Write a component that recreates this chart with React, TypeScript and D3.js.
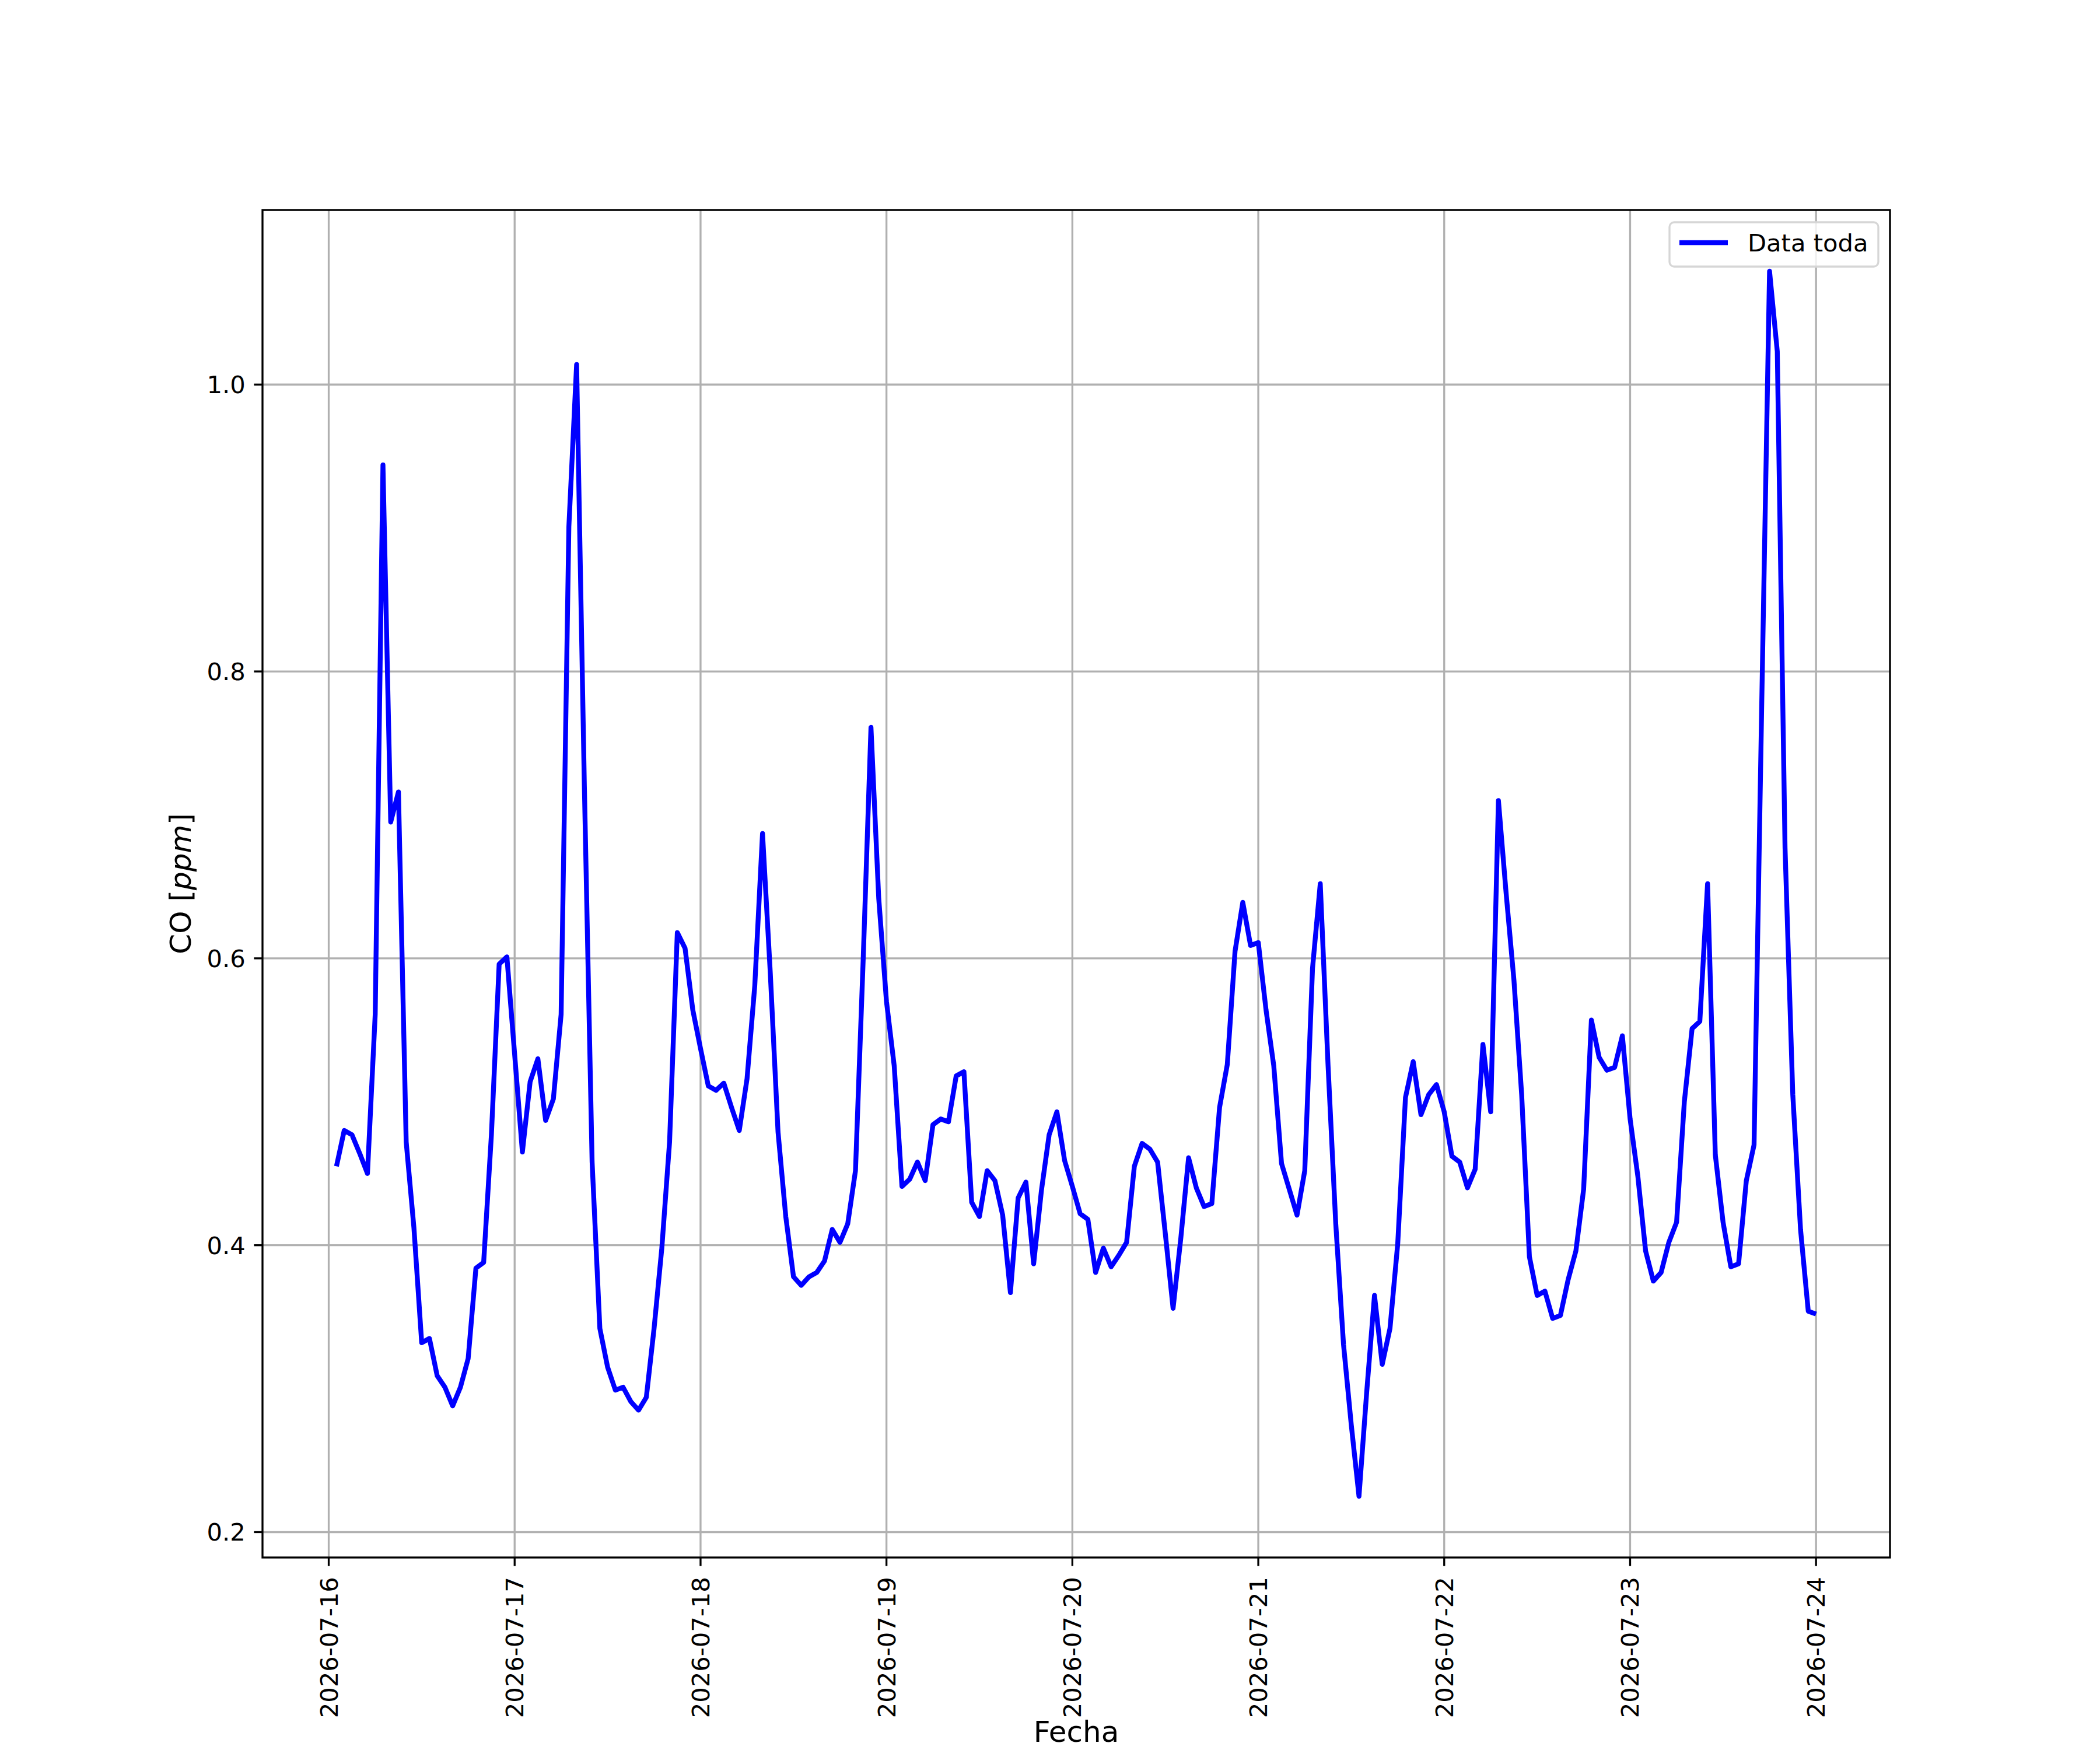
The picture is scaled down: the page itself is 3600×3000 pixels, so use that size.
import { useRef, useEffect } from 'react'
import * as d3 from 'd3'

// hourly CO readings (ppm), one array per day
const day16 = [ // 01:00 .. 23:00
  0.455, 0.480, 0.477, 0.464, 0.450, 0.561, 0.944, 0.695, 0.716, 0.472, 0.412, 0.332,
  0.335, 0.309, 0.301, 0.288, 0.301, 0.321, 0.384, 0.388, 0.477, 0.596, 0.601,
]
const day17 = [
  0.533, 0.465, 0.514, 0.530, 0.487, 0.502, 0.561, 0.901, 1.014, 0.720, 0.458, 0.342,
  0.315, 0.299, 0.301, 0.291, 0.285, 0.294, 0.342, 0.398, 0.472, 0.618, 0.607, 0.564,
]
const day18 = [
  0.537, 0.511, 0.508, 0.513, 0.496, 0.480, 0.516, 0.581, 0.687, 0.590, 0.479, 0.420,
  0.378, 0.372, 0.378, 0.381, 0.389, 0.411, 0.402, 0.415, 0.452, 0.600, 0.761, 0.642,
]
const day19 = [
  0.570, 0.525, 0.441, 0.446, 0.458, 0.445, 0.484, 0.488, 0.486, 0.518, 0.521, 0.430,
  0.420, 0.452, 0.445, 0.421, 0.367, 0.433, 0.444, 0.387, 0.438, 0.477, 0.493, 0.459,
]
const day20 = [
  0.441, 0.422, 0.418, 0.381, 0.398, 0.385, 0.393, 0.402, 0.455, 0.471, 0.467, 0.458,
  0.408, 0.356, 0.405, 0.461, 0.440, 0.427, 0.429, 0.496, 0.526, 0.605, 0.639, 0.609,
]
const day21 = [
  0.611, 0.564, 0.525, 0.457, 0.439, 0.421, 0.452, 0.593, 0.652, 0.526, 0.415, 0.331,
  0.275, 0.225, 0.298, 0.365, 0.317, 0.342, 0.401, 0.503, 0.528, 0.491, 0.505, 0.512,
]
const day22 = [
  0.493, 0.462, 0.458, 0.440, 0.453, 0.540, 0.493, 0.710, 0.645, 0.585, 0.505, 0.392,
  0.365, 0.368, 0.349, 0.351, 0.376, 0.396, 0.439, 0.557, 0.531, 0.522, 0.524, 0.546,
]
const day23 = [
  0.488, 0.448, 0.396, 0.375, 0.381, 0.402, 0.416, 0.500, 0.551, 0.556, 0.652, 0.463,
  0.416, 0.385, 0.387, 0.445, 0.470, 0.780, 1.079, 1.023, 0.677, 0.505, 0.411, 0.354,
]
const day24 = [0.352] // 00:00

const xTickLabels = [
  '2026-07-16', '2026-07-17', '2026-07-18', '2026-07-19', '2026-07-20',
  '2026-07-21', '2026-07-22', '2026-07-23', '2026-07-24',
]
const yTicks = [0.2, 0.4, 0.6, 0.8, 1.0]

const seriesName = 'Data toda'
const firstReading = Date.UTC(2026, 6, 16, 1)

export default function App() {
  const svgRef = useRef<SVGSVGElement>(null)

  useEffect(() => {
    if (!svgRef.current) return
    const svg = d3.select(svgRef.current)
    svg.selectAll('*').remove()

    const width = 3600
    const height = 3000
    const left = 450, right = 3240, top = 360, bottom = 2670
    const fs = 41.67      // 10pt @ 300dpi
    const labelFs = 50    // 12pt @ 300dpi
    const lw = 3.33
    const font = 'DejaVu Sans'

    const values = [...day16, ...day17, ...day18, ...day19, ...day20, ...day21, ...day22, ...day23, ...day24]
    const data = values.map((v, i) => ({ t: new Date(firstReading + i * 3600e3), v }))

    // matplotlib-style 5% margins
    const [t0, t1] = d3.extent(data, d => +d.t) as [number, number]
    const tPad = (t1 - t0) * 0.05
    const [v0, v1] = d3.extent(values) as [number, number]
    const vPad = (v1 - v0) * 0.05

    const x = d3.scaleUtc().domain([t0 - tPad, t1 + tPad]).range([left, right])
    const y = d3.scaleLinear().domain([v0 - vPad, v1 + vPad]).range([bottom, top])

    const parse = d3.utcParse('%Y-%m-%d')
    const xTicks = xTickLabels.map(s => parse(s) as Date)

    svg.attr('width', width).attr('height', height)
      .style('font-family', font)

    svg.append('rect').attr('width', width).attr('height', height).attr('fill', '#fff')

    // grid
    const grid = svg.append('g').attr('stroke', '#b0b0b0').attr('stroke-width', lw)
    grid.selectAll('line.vx').data(xTicks).enter().append('line')
      .attr('x1', d => x(d)).attr('x2', d => x(d))
      .attr('y1', top).attr('y2', bottom)
    grid.selectAll('line.hy').data(yTicks).enter().append('line')
      .attr('x1', left).attr('x2', right)
      .attr('y1', d => y(d)).attr('y2', d => y(d))

    // series
    const line = d3.line<{ t: Date; v: number }>()
      .x(d => x(d.t))
      .y(d => y(d.v))
    svg.append('path')
      .datum(data)
      .attr('d', line)
      .attr('fill', 'none')
      .attr('stroke', '#0000ff')
      .attr('stroke-width', 8.33)
      .attr('stroke-linejoin', 'round')
      .attr('stroke-linecap', 'butt')

    // spines
    svg.append('rect')
      .attr('x', left).attr('y', top)
      .attr('width', right - left).attr('height', bottom - top)
      .attr('fill', 'none').attr('stroke', '#000').attr('stroke-width', lw)

    // x ticks
    const tickLen = 14.6
    const xt = svg.append('g')
    xt.selectAll('line').data(xTicks).enter().append('line')
      .attr('x1', d => x(d)).attr('x2', d => x(d))
      .attr('y1', bottom).attr('y2', bottom + tickLen)
      .attr('stroke', '#000').attr('stroke-width', lw)
    xt.selectAll('text').data(xTicks).enter().append('text')
      .attr('transform', d => `translate(${x(d)},${bottom + 2 * tickLen + 4}) rotate(-90)`)
      .attr('text-anchor', 'end')
      .attr('dy', '0.36em')
      .attr('font-size', fs)
      .text((_, i) => xTickLabels[i])

    // y ticks
    const yt = svg.append('g')
    yt.selectAll('line').data(yTicks).enter().append('line')
      .attr('x1', left - tickLen).attr('x2', left)
      .attr('y1', d => y(d)).attr('y2', d => y(d))
      .attr('stroke', '#000').attr('stroke-width', lw)
    yt.selectAll('text').data(yTicks).enter().append('text')
      .attr('x', left - 2 * tickLen)
      .attr('y', d => y(d))
      .attr('dy', '0.36em')
      .attr('text-anchor', 'end')
      .attr('font-size', fs)
      .text(d => d3.format('.1f')(d))

    // axis labels
    svg.append('text')
      .attr('x', (left + right) / 2)
      .attr('y', 2986)
      .attr('text-anchor', 'middle')
      .attr('font-size', labelFs)
      .text('Fecha')

    const yl = svg.append('text')
      .attr('transform', `translate(327,${(top + bottom) / 2}) rotate(-90)`)
      .attr('text-anchor', 'middle')
      .attr('font-size', labelFs)
    yl.append('tspan').text('CO [')
    yl.append('tspan').attr('font-style', 'italic').text('ppm')
    yl.append('tspan').text(']')

    // legend
    const lg = svg.append('g')
    lg.append('rect')
      .attr('x', 2862).attr('y', 381)
      .attr('width', 358).attr('height', 76)
      .attr('rx', 8).attr('ry', 8)
      .attr('fill', '#fff').attr('fill-opacity', 0.8)
      .attr('stroke', '#d6d6d6').attr('stroke-width', lw)
    lg.append('line')
      .attr('x1', 2879).attr('x2', 2962)
      .attr('y1', 416).attr('y2', 416)
      .attr('stroke', '#0000ff').attr('stroke-width', 8.33)
    lg.append('text')
      .attr('x', 2996).attr('y', 431)
      .attr('font-size', fs)
      .text(seriesName)
  }, [])

  return (
    <svg
      ref={svgRef}
      width={3600}
      height={3000}
      style={{ position: 'absolute', left: 0, top: 0 }}
    />
  )
}
